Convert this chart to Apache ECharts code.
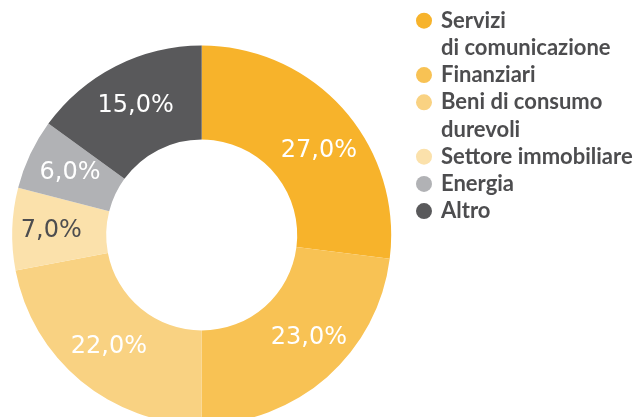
<!DOCTYPE html>
<html>
<head>
<meta charset="utf-8">
<script src="https://cdn.jsdelivr.net/npm/echarts@6/dist/echarts.min.js"></script>
<style>
  html, body { margin: 0; padding: 0; background: #fff; }
  #chart { width: 638px; height: 417px; }
</style>
</head>
<body>
<div id="chart"></div>
<script>
// dati
const categories = [
  'Servizi\ndi comunicazione',
  'Finanziari',
  'Beni di consumo\ndurevoli',
  'Settore immobiliare',
  'Energia',
  'Altro',
]
const values = [27.0, 23.0, 22.0, 7.0, 6.0, 15.0]
const colors = ['#F7B32B', '#F8C254', '#F9D282', '#FBE1AB', '#B1B2B5', '#59595B']
const labelColors = ['#fff', '#fff', '#fff', '#4D4D4F', '#fff', '#fff']

const chart = echarts.init(document.getElementById('chart'))

// legenda: una per voce, per tenere il pallino sulla prima riga
const LINE = 27.2
const FIRST_LINE_Y = 20.7
let lineIdx = 0
const legends = categories.map((name) => {
  const lines = name.split('\n').length
  const iconCenter = FIRST_LINE_Y + LINE * lineIdx
  lineIdx += lines
  // riga vuota in testa: il blocco centrato mette la prima riga sul pallino
  const pad = lines - 1
  return {
    data: [name],
    orient: 'vertical',
    left: 416,
    top: iconCenter - LINE / 2 - pad * LINE,
    padding: 0,
    icon: 'circle',
    itemWidth: 20,
    itemHeight: 16,
    selectedMode: false,
    formatter: (n) => '\n'.repeat(pad) + n,
    textStyle: {
      fontFamily: 'Lato',
      fontWeight: 'bold',
      fontSize: 22,
      color: '#4D4D4F',
      lineHeight: LINE,
      padding: [0, 0, 0, 2],
    },
  }
})

// piccoli spostamenti delle etichette come nell'originale
const labelNudge = [[8, 12], [11, -6], [0, 0], [-5, 0], [0, 0], [0, 0]]

const option = {
  animation: false,
  color: colors,
  legend: legends,
  series: [{
    type: 'pie',
    center: [201.7, 235],
    radius: [95.5, 189.5],
    startAngle: 90,
    clockwise: true,
    silent: true,
    avoidLabelOverlap: false,
    itemStyle: { borderWidth: 0 },
    label: {
      show: true,
      position: 'inside',
      fontFamily: 'DejaVu Sans',
      fontSize: 24,
      formatter: (p) => p.value.toFixed(1).replace('.', ',') + '%',
    },
    labelLine: { show: false },
    data: categories.map((name, i) => ({
      name,
      value: values[i],
      label: { color: labelColors[i], offset: labelNudge[i] },
    })),
  }],
}

chart.setOption(option)
</script>
</body>
</html>
